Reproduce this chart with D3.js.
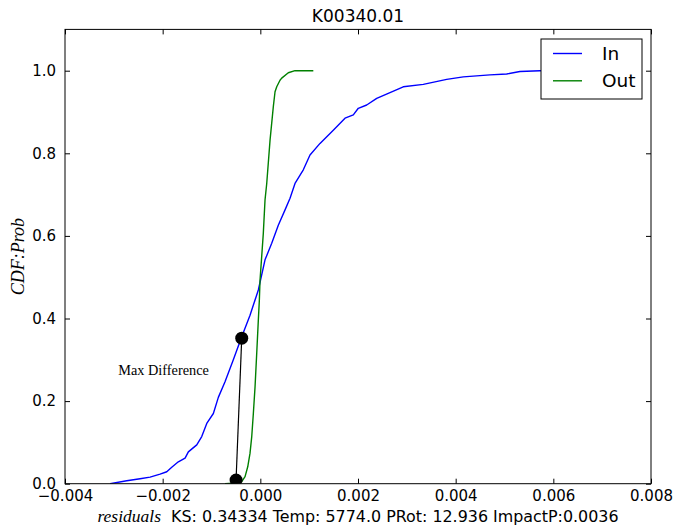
<!DOCTYPE html>
<html>
<head>
<meta charset="utf-8">
<script src="https://cdn.jsdelivr.net/npm/d3@7"></script>
<style>
  html, body { margin: 0; padding: 0; background: #fff; }
  svg { display: block; }
  .tick-label { font-family: "DejaVu Sans", sans-serif; font-size: 15px; fill: #000; }
</style>
</head>
<body>
<svg id="chart" width="678" height="532"></svg>
<script>
// Empirical CDF of residuals: in-transit vs out-of-transit
const inResidual = [-0.003077, -0.002735, -0.002463, -0.002258, -0.002053, -0.001916, -0.001814,
  -0.001679, -0.001541, -0.001474, -0.001302, -0.0012, -0.001097, -0.000962, -0.00086,
  -0.000723, -0.000553, -0.000381, -0.000211, -0.000041, 0.000096, 0.000233, 0.000368,
  0.000506, 0.000608, 0.00071, 0.00088, 0.001017, 0.001222, 0.001494, 0.001734, 0.001904,
  0.002006, 0.002178, 0.002383, 0.002655, 0.002927, 0.003337, 0.003816, 0.004156, 0.004702,
  0.005044, 0.005316, 0.005726, 0.0067];
const inCdf = [0.0, 0.007, 0.012, 0.016, 0.023, 0.029, 0.040,
  0.053, 0.062, 0.077, 0.094, 0.114, 0.146, 0.170, 0.209,
  0.247, 0.300, 0.356, 0.408, 0.469, 0.542, 0.582, 0.626,
  0.663, 0.691, 0.727, 0.760, 0.796, 0.824, 0.856, 0.885, 0.893,
  0.909, 0.917, 0.933, 0.947, 0.961, 0.967, 0.979, 0.985, 0.990,
  0.992, 0.998, 1.0, 1.0];

const outResidual = [-0.000723, -0.000483, -0.000381, -0.000313, -0.000258, -0.000211, -0.000176,
  -0.000143, -0.000108, -0.000074, -0.000041, -0.00002, -0.000006, 0.000061, 0.000096,
  0.000131, 0.000199, 0.000266, 0.000301, 0.000336, 0.000403, 0.000438, 0.000573,
  0.00071, 0.001085];
const outCdf = [0.0, 0.002, 0.005, 0.017, 0.041, 0.074, 0.114,
  0.170, 0.235, 0.316, 0.396, 0.445, 0.493, 0.606, 0.687,
  0.727, 0.832, 0.913, 0.949, 0.961, 0.977, 0.982, 0.995,
  1.0, 1.0];

// KS statistic and the residual values where the max gap occurs
const ksStat = 0.34334;
const maxDiffX = [-0.000497, -0.000381];
const maxDiffLow = 0.009;

const xTicks = [-0.004, -0.002, 0.0, 0.002, 0.004, 0.006, 0.008];
const yTicks = [0.0, 0.2, 0.4, 0.6, 0.8, 1.0];

const titleText = "K00340.01";
const statsText = "KS: 0.34334 Temp: 5774.0 PRot: 12.936 ImpactP:0.0036";
const seriesNames = ["In", "Out"];
const seriesColors = ["#0000ff", "#008000"];

const svg = d3.select("#chart");
const plot = { left: 65, right: 651, top: 29.4, bottom: 483.7 };

const x = d3.scaleLinear().domain([-0.004, 0.008]).range([plot.left, plot.right]);
const y = d3.scaleLinear().domain([0, 1.1]).range([plot.bottom, plot.top]);

svg.append("defs").append("clipPath").attr("id", "plot-clip")
  .append("rect")
  .attr("x", plot.left).attr("y", plot.top)
  .attr("width", plot.right - plot.left).attr("height", plot.bottom - plot.top);

const fmt = v => v.toFixed(3).replace("-", "\u2212");
const fmtY = v => v.toFixed(1);

// Axes with inward ticks on all four sides
const tickLen = 5;
const bottomAxis = d3.axisBottom(x).tickValues(xTicks).tickFormat(fmt).tickSize(-tickLen).tickPadding(tickLen + 2);
const topAxis = d3.axisTop(x).tickValues(xTicks).tickFormat("").tickSize(-tickLen);
const leftAxis = d3.axisLeft(y).tickValues(yTicks).tickFormat(fmtY).tickSize(-tickLen).tickPadding(tickLen + 4);
const rightAxis = d3.axisRight(y).tickValues(yTicks).tickFormat("").tickSize(-tickLen);

function styleAxis(g) {
  g.select(".domain").remove();
  g.selectAll(".tick line").attr("stroke", "#000").attr("stroke-width", 1);
  g.selectAll(".tick text").attr("class", "tick-label").attr("font-family", null).attr("font-size", null);
}

svg.append("g").attr("transform", `translate(0,${plot.bottom})`).call(bottomAxis).call(styleAxis);
svg.append("g").attr("transform", `translate(0,${plot.top})`).call(topAxis).call(styleAxis);
svg.append("g").attr("transform", `translate(${plot.left},0)`).call(leftAxis).call(styleAxis);
svg.append("g").attr("transform", `translate(${plot.right},0)`).call(rightAxis).call(styleAxis);

// CDF curves
const line = d3.line().x(d => x(d[0])).y(d => y(d[1]));
const series = [d3.zip(inResidual, inCdf), d3.zip(outResidual, outCdf)];
const lines = svg.append("g").attr("clip-path", "url(#plot-clip)");
series.forEach((pts, i) => {
  lines.append("path")
    .attr("d", line(pts))
    .attr("fill", "none")
    .attr("stroke", seriesColors[i])
    .attr("stroke-width", 1.4)
    .attr("stroke-linejoin", "round");
});

// Max difference marker
const diffPts = [[maxDiffX[0], maxDiffLow], [maxDiffX[1], maxDiffLow + ksStat]];
lines.append("path")
  .attr("d", line(diffPts))
  .attr("stroke", "#000").attr("stroke-width", 1.2).attr("fill", "none");
lines.selectAll("circle.dot").data(diffPts).enter().append("circle")
  .attr("class", "dot")
  .attr("cx", d => x(d[0])).attr("cy", d => y(d[1])).attr("r", 6.5)
  .attr("fill", "#000");

svg.append("text")
  .attr("x", x(-0.00291)).attr("y", y(0.262))
  .attr("font-family", "'Liberation Serif', 'DejaVu Serif', serif")
  .attr("font-size", 14.3)
  .text("Max Difference");

// Frame
svg.append("rect")
  .attr("x", plot.left).attr("y", plot.top)
  .attr("width", plot.right - plot.left).attr("height", plot.bottom - plot.top)
  .attr("fill", "none").attr("stroke", "#000").attr("stroke-width", 1);

// Title
svg.append("text")
  .attr("x", (plot.left + plot.right) / 2).attr("y", 22)
  .attr("text-anchor", "middle")
  .attr("font-family", "'DejaVu Sans', sans-serif").attr("font-size", 17)
  .text(titleText);

// X label: italic math-style word followed by statistics
const xl = svg.append("text")
  .attr("x", (plot.left + plot.right) / 2).attr("y", 522)
  .attr("text-anchor", "middle")
  .attr("font-family", "'DejaVu Sans', sans-serif").attr("font-size", 15.9);
xl.append("tspan")
  .attr("font-family", "'Liberation Serif', 'DejaVu Serif', serif")
  .attr("font-style", "italic").attr("font-size", 17.5)
  .text("residuals");
xl.append("tspan").text("\u00a0 " + statsText);

// Y label
svg.append("text")
  .attr("transform", `translate(24,${(plot.top + plot.bottom) / 2}) rotate(-90)`)
  .attr("text-anchor", "middle")
  .attr("font-family", "'Liberation Serif', 'DejaVu Serif', serif")
  .attr("font-style", "italic").attr("font-size", 18)
  .text("CDF:Prob");

// Legend
const legend = svg.append("g");
legend.append("rect")
  .attr("x", 541).attr("y", 39).attr("width", 101).attr("height", 60)
  .attr("fill", "#fff").attr("stroke", "#000").attr("stroke-width", 1);
seriesNames.forEach((name, i) => {
  const ly = 53.5 + i * 27.3;
  legend.append("line")
    .attr("x1", 553).attr("x2", 582).attr("y1", ly).attr("y2", ly)
    .attr("stroke", seriesColors[i]).attr("stroke-width", 1.4);
  legend.append("text")
    .attr("x", 602).attr("y", ly + 6.5)
    .attr("font-family", "'DejaVu Sans', sans-serif").attr("font-size", 18.5)
    .text(name);
});
</script>
</body>
</html>
